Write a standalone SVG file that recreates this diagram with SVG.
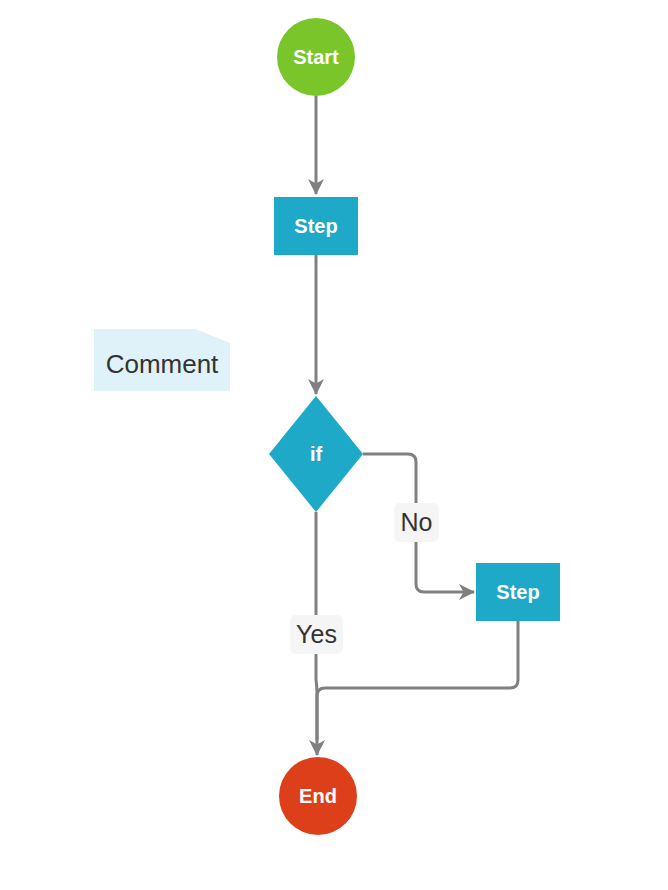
<svg xmlns="http://www.w3.org/2000/svg" width="668" height="890" viewBox="0 0 668 890">
<style>
.ln{fill:none;stroke:#808080;stroke-width:3}
.nt{font-family:"Liberation Sans",Arial,sans-serif;font-weight:bold;font-size:20px;fill:#fff;text-anchor:middle}
.lb{font-family:"Liberation Sans",Arial,sans-serif;font-size:25px;fill:#333;text-anchor:middle}
.lbg{fill:#f5f5f5}
.step{fill:#1ea9c9}
</style>
<defs>
<marker id="ah" viewBox="0 0 16 16" refX="15" refY="8" markerWidth="16" markerHeight="16" markerUnits="userSpaceOnUse" orient="auto">
<path d="M0,0 L16,8 L0,16 L4.5,8 Z" fill="#808080"/>
</marker>
</defs>
<rect width="668" height="890" fill="#fff"/>
<g id="connectors">
<path class="ln" d="M316,96 V194" marker-end="url(#ah)"/>
<path class="ln" d="M316,255 V394" marker-end="url(#ah)"/>
<path class="ln" d="M363,454 H408 Q416,454 416,462 V584 Q416,592 424,592 H474" marker-end="url(#ah)"/>
<path class="ln" d="M316,512 V680 Q317,686 317,696 V740"/>
<path class="ln" d="M518,621 V680 Q518,688 510,688 H325 Q317,688 317,696 V755" marker-end="url(#ah)"/>
<g id="label-no">
<rect class="lbg" x="394" y="503" width="45" height="39" rx="6"/>
<text class="lb" x="416.5" y="531">No</text>
</g>
<g id="label-yes">
<rect class="lbg" x="290" y="615" width="53" height="39" rx="6"/>
<text class="lb" x="316.5" y="643">Yes</text>
</g>
</g>
<g id="start">
<circle cx="316" cy="57" r="39" fill="#7ac52a"/>
<text class="nt" x="316" y="64">Start</text>
</g>
<g id="step1">
<rect class="step" x="274" y="197" width="84" height="58"/>
<text class="nt" x="316" y="233">Step</text>
</g>
<g id="comment">
<path d="M94,329 H195 L230,343 V391 H94 Z" fill="#dff2f9"/>
<text x="162" y="373" font-family="'Liberation Sans',Arial,sans-serif" font-size="26" fill="#333" text-anchor="middle">Comment</text>
</g>
<g id="if">
<path d="M316,396 L363,454 L316,512 L269,454 Z" fill="#1ea9c9"/>
<text class="nt" x="316" y="461">if</text>
</g>
<g id="step2">
<rect class="step" x="476" y="563" width="84" height="58"/>
<text class="nt" x="518" y="599">Step</text>
</g>
<g id="end">
<circle cx="318" cy="796" r="39" fill="#dc3f19"/>
<text class="nt" x="318" y="803">End</text>
</g>
</svg>
